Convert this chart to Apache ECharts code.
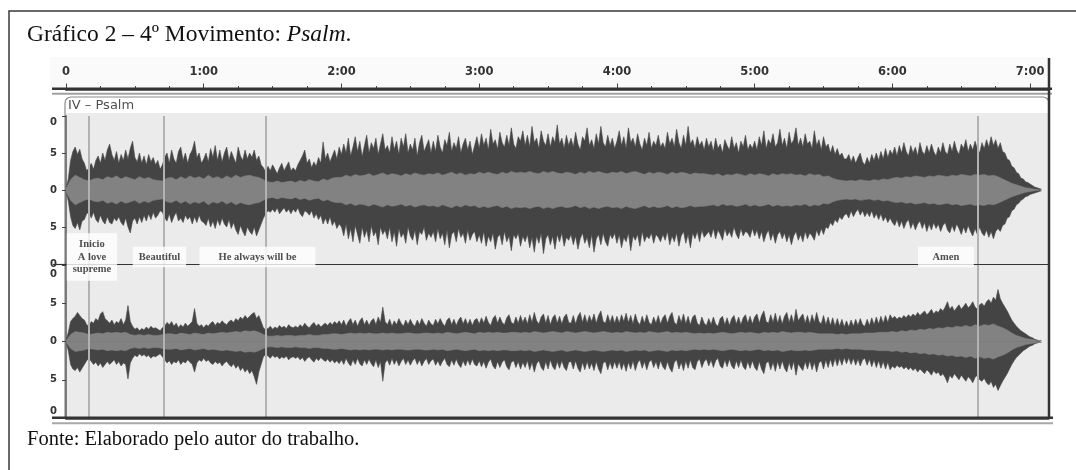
<!DOCTYPE html>
<html><head><meta charset="utf-8">
<script src="https://cdn.jsdelivr.net/npm/echarts@6/dist/echarts.min.js"></script>
<style>html,body{margin:0;padding:0;background:#fff}#c{width:1076px;height:470px}</style>
</head><body><div id="c"></div>
<script>
// ---------- data ----------
const timeMax = 428;                       // seconds shown by the track
const minuteTicks = [0, 60, 120, 180, 240, 300, 360, 420];
const quarterTicks = [15,30,45,75,90,105,135,150,165,195,210,225,255,270,285,315,330,345,375,390,405];
const markerTimes = [9.7, 42.6, 86.8, 397.3];
const annotationTimes = [11.3, 40.7, 83.4, 383.3];
const annotationTexts = ['Inicio\nA love\nsupreme', 'Beautiful', 'He always will be', 'Amen'];
const yTickValues = [-1, -0.5, 0, 0.5, 1];
const yTickLabels = ['0', '5', '0', '5', '0'];
const peakStep = 1;   // seconds per peak sample
const rmsStep = 2;    // seconds per rms sample

// channel 1 (upper) peak envelope, top
const ch1Top = [
0.02,0.15,0.4,0.52,0.58,0.48,0.55,0.42,0.36,0.26,0.3,0.36,0.28,0.4,0.46,0.36,0.5,0.4,0.54,0.62,
0.48,0.4,0.52,0.36,0.48,0.4,0.54,0.42,0.56,0.66,0.44,0.38,0.5,0.36,0.46,0.34,0.48,0.38,0.44,0.34,
0.4,0.28,0.34,0.44,0.5,0.36,0.54,0.42,0.36,0.52,0.58,0.4,0.5,0.36,0.48,0.54,0.66,0.44,0.5,0.36,
0.42,0.5,0.38,0.56,0.44,0.6,0.4,0.54,0.38,0.5,0.58,0.4,0.52,0.44,0.36,0.58,0.46,0.4,0.54,0.42,
0.5,0.44,0.54,0.4,0.46,0.34,0.3,0.24,0.32,0.26,0.34,0.28,0.22,0.3,0.36,0.26,0.32,0.38,0.26,0.3,
0.26,0.34,0.4,0.46,0.54,0.36,0.42,0.3,0.38,0.32,0.44,0.36,0.65,0.42,0.5,0.38,0.46,0.54,0.42,0.58,
0.48,0.62,0.5,0.7,0.46,0.58,0.72,0.52,0.66,0.45,0.6,0.74,0.5,0.64,0.56,0.7,0.48,0.62,0.76,0.54,
0.6,0.5,0.72,0.55,0.66,0.48,0.7,0.58,0.76,0.5,0.62,0.54,0.7,0.46,0.64,0.74,0.52,0.6,0.68,0.5,
0.66,0.52,0.74,0.58,0.5,0.68,0.6,0.78,0.52,0.64,0.56,0.72,0.5,0.62,0.7,0.54,0.66,0.48,0.6,0.72,
0.56,0.76,0.6,0.7,0.54,0.82,0.62,0.68,0.55,0.78,0.64,0.58,0.74,0.6,0.84,0.62,0.56,0.72,0.66,0.8,
0.6,0.74,0.58,0.86,0.64,0.7,0.56,0.8,0.66,0.6,0.76,0.58,0.72,0.64,0.88,0.62,0.7,0.56,0.74,0.6,
0.7,0.58,0.78,0.62,0.54,0.72,0.66,0.84,0.6,0.68,0.56,0.76,0.62,0.86,0.64,0.58,0.74,0.6,0.7,0.56,
0.66,0.8,0.6,0.72,0.56,0.84,0.64,0.7,0.58,0.76,0.62,0.54,0.7,0.6,0.78,0.56,0.66,0.6,0.74,0.58,
0.64,0.56,0.78,0.62,0.7,0.58,0.82,0.64,0.56,0.74,0.6,0.86,0.62,0.68,0.56,0.72,0.6,0.66,0.54,0.7,
0.58,0.66,0.52,0.7,0.56,0.62,0.5,0.68,0.6,0.54,0.72,0.56,0.64,0.5,0.66,0.58,0.74,0.54,0.62,0.56,
0.66,0.54,0.72,0.6,0.8,0.56,0.68,0.62,0.76,0.58,0.64,0.82,0.6,0.7,0.56,0.78,0.62,0.68,0.84,0.6,
0.7,0.58,0.76,0.62,0.66,0.56,0.8,0.6,0.68,0.54,0.72,0.58,0.62,0.5,0.6,0.48,0.56,0.46,0.5,0.42,
0.42,0.48,0.38,0.46,0.36,0.44,0.5,0.38,0.34,0.44,0.36,0.48,0.4,0.5,0.4,0.52,0.42,0.56,0.44,0.54,
0.48,0.58,0.46,0.6,0.5,0.64,0.52,0.46,0.6,0.5,0.58,0.46,0.64,0.52,0.48,0.6,0.5,0.62,0.52,0.46,
0.58,0.5,0.64,0.52,0.48,0.62,0.52,0.66,0.54,0.48,0.62,0.56,0.68,0.52,0.62,0.54,0.66,0.56,0.5,0.64,
0.56,0.68,0.58,0.72,0.6,0.68,0.56,0.64,0.52,0.5,0.42,0.4,0.32,0.3,0.24,0.22,0.16,0.15,0.11,0.1,
0.08,0.06,0.04,0.03,0.02,0.01];
// channel 1 peak envelope, bottom
const ch1Bottom = [
-0.02,-0.15,-0.36,-0.48,-0.52,-0.44,-0.54,-0.42,-0.4,-0.32,-0.3,-0.38,-0.3,-0.4,-0.44,-0.34,-0.42,-0.46,-0.36,-0.44,
-0.46,-0.38,-0.42,-0.36,-0.44,-0.48,-0.38,-0.5,-0.58,-0.42,-0.38,-0.46,-0.36,-0.44,-0.34,-0.42,-0.32,-0.4,-0.3,-0.38,
-0.34,-0.28,-0.3,-0.38,-0.42,-0.32,-0.44,-0.36,-0.3,-0.42,-0.38,-0.44,-0.34,-0.4,-0.36,-0.46,-0.36,-0.44,-0.34,-0.42,
-0.44,-0.48,-0.38,-0.5,-0.42,-0.52,-0.4,-0.48,-0.38,-0.46,-0.5,-0.4,-0.52,-0.44,-0.54,-0.6,-0.48,-0.56,-0.62,-0.5,
-0.56,-0.6,-0.5,-0.62,-0.54,-0.46,-0.38,-0.32,-0.28,-0.3,-0.26,-0.3,-0.24,-0.32,-0.28,-0.24,-0.3,-0.26,-0.32,-0.26,
-0.3,-0.24,-0.32,-0.36,-0.28,-0.3,-0.34,-0.28,-0.38,-0.32,-0.4,-0.34,-0.46,-0.38,-0.46,-0.36,-0.48,-0.42,-0.52,-0.46,
-0.5,-0.62,-0.46,-0.66,-0.52,-0.7,-0.48,-0.6,-0.72,-0.5,-0.64,-0.54,-0.7,-0.48,-0.62,-0.56,-0.74,-0.5,-0.6,-0.54,
-0.66,-0.5,-0.7,-0.56,-0.76,-0.52,-0.64,-0.58,-0.72,-0.5,-0.62,-0.68,-0.54,-0.74,-0.56,-0.6,-0.5,-0.68,-0.58,-0.64,
-0.56,-0.7,-0.52,-0.66,-0.58,-0.74,-0.54,-0.78,-0.6,-0.56,-0.7,-0.52,-0.64,-0.58,-0.72,-0.54,-0.68,-0.6,-0.56,-0.7,
-0.6,-0.72,-0.56,-0.76,-0.62,-0.7,-0.58,-0.8,-0.64,-0.6,-0.74,-0.56,-0.7,-0.62,-0.82,-0.6,-0.66,-0.58,-0.76,-0.62,
-0.7,-0.6,-0.78,-0.64,-0.84,-0.62,-0.72,-0.58,-0.86,-0.66,-0.6,-0.74,-0.62,-0.8,-0.6,-0.7,-0.58,-0.76,-0.64,-0.68,
-0.6,-0.74,-0.62,-0.8,-0.66,-0.58,-0.72,-0.64,-0.78,-0.6,-0.84,-0.66,-0.6,-0.74,-0.58,-0.7,-0.76,-0.6,-0.66,-0.58,
-0.72,-0.6,-0.78,-0.64,-0.7,-0.58,-0.82,-0.62,-0.68,-0.6,-0.76,-0.56,-0.7,-0.62,-0.66,-0.58,-0.72,-0.6,-0.64,-0.7,
-0.6,-0.68,-0.56,-0.74,-0.62,-0.7,-0.58,-0.76,-0.62,-0.56,-0.72,-0.6,-0.78,-0.58,-0.66,-0.56,-0.7,-0.54,-0.64,-0.6,
-0.56,-0.64,-0.52,-0.66,-0.54,-0.6,-0.68,-0.52,-0.62,-0.56,-0.64,-0.5,-0.6,-0.66,-0.52,-0.62,-0.56,-0.58,-0.64,-0.52,
-0.62,-0.54,-0.66,-0.56,-0.7,-0.6,-0.54,-0.68,-0.58,-0.72,-0.6,-0.56,-0.66,-0.58,-0.7,-0.6,-0.74,-0.62,-0.56,-0.68,
-0.6,-0.7,-0.56,-0.66,-0.58,-0.62,-0.68,-0.54,-0.62,-0.52,-0.6,-0.5,-0.52,-0.44,-0.48,-0.4,-0.44,-0.36,-0.4,-0.34,
-0.32,-0.38,-0.28,-0.36,-0.3,-0.26,-0.34,-0.28,-0.36,-0.3,-0.36,-0.28,-0.38,-0.32,-0.4,-0.32,-0.42,-0.36,-0.44,-0.38,
-0.44,-0.48,-0.4,-0.5,-0.42,-0.52,-0.44,-0.4,-0.52,-0.44,-0.54,-0.46,-0.42,-0.52,-0.44,-0.56,-0.46,-0.54,-0.44,-0.52,
-0.46,-0.56,-0.48,-0.44,-0.54,-0.58,-0.48,-0.56,-0.46,-0.52,-0.6,-0.5,-0.58,-0.48,-0.56,-0.62,-0.52,-0.6,-0.5,-0.58,
-0.62,-0.54,-0.64,-0.56,-0.66,-0.56,-0.52,-0.56,-0.48,-0.46,-0.38,-0.36,-0.28,-0.26,-0.2,-0.18,-0.14,-0.12,-0.09,-0.08,
-0.06,-0.05,-0.04,-0.03,-0.02,-0.01];
// channel 1 rms band (symmetric)
const ch1Rms = [
0.02,0.14,0.2,0.17,0.14,0.12,0.15,0.16,0.14,0.18,0.16,0.19,0.15,0.18,0.16,0.14,0.18,0.15,0.17,0.14,
0.13,0.12,0.16,0.17,0.14,0.18,0.15,0.19,0.16,0.18,0.15,0.2,0.16,0.18,0.15,0.19,0.16,0.2,0.17,0.19,
0.2,0.18,0.17,0.14,0.11,0.1,0.12,0.1,0.11,0.12,0.1,0.13,0.11,0.14,0.12,0.11,0.15,0.13,0.16,0.17,
0.17,0.2,0.18,0.21,0.19,0.2,0.22,0.19,0.21,0.23,0.2,0.22,0.21,0.19,0.22,0.2,0.23,0.21,0.2,0.22,
0.21,0.23,0.2,0.22,0.24,0.21,0.23,0.2,0.22,0.21,0.24,0.22,0.24,0.22,0.21,0.24,0.22,0.25,0.23,0.24,
0.23,0.25,0.23,0.22,0.25,0.23,0.25,0.23,0.22,0.24,0.23,0.21,0.24,0.22,0.25,0.23,0.25,0.23,0.22,0.24,
0.23,0.25,0.22,0.24,0.25,0.23,0.21,0.24,0.22,0.24,0.23,0.21,0.24,0.22,0.24,0.23,0.21,0.23,0.22,0.22,
0.21,0.2,0.22,0.19,0.21,0.2,0.22,0.21,0.19,0.22,0.2,0.22,0.21,0.19,0.22,0.2,0.22,0.21,0.22,0.2,
0.21,0.19,0.22,0.2,0.21,0.18,0.19,0.16,0.14,0.13,0.12,0.13,0.12,0.14,0.13,0.12,0.14,0.13,0.15,0.14,
0.16,0.17,0.16,0.18,0.17,0.19,0.18,0.17,0.19,0.18,0.2,0.19,0.18,0.2,0.19,0.21,0.2,0.19,0.21,0.2,
0.21,0.19,0.2,0.18,0.15,0.12,0.09,0.07,0.05,0.03,0.02,0.01,0.005];
// channel 2 (lower) peak envelope, top
const ch2Top = [
0.01,0.12,0.26,0.3,0.33,0.38,0.34,0.3,0.28,0.22,0.2,0.26,0.24,0.3,0.27,0.36,0.39,0.3,0.27,0.24,
0.28,0.22,0.26,0.24,0.3,0.22,0.28,0.47,0.26,0.2,0.16,0.18,0.14,0.17,0.15,0.19,0.16,0.2,0.17,0.18,
0.16,0.14,0.18,0.2,0.25,0.22,0.26,0.2,0.24,0.18,0.22,0.19,0.24,0.2,0.23,0.26,0.43,0.24,0.2,0.22,
0.18,0.22,0.2,0.24,0.26,0.21,0.25,0.23,0.27,0.24,0.22,0.26,0.28,0.25,0.3,0.27,0.32,0.29,0.34,0.3,
0.33,0.36,0.38,0.3,0.34,0.26,0.18,0.15,0.17,0.2,0.16,0.19,0.17,0.21,0.18,0.2,0.17,0.22,0.19,0.18,
0.2,0.18,0.22,0.19,0.24,0.2,0.18,0.22,0.25,0.2,0.23,0.19,0.22,0.24,0.21,0.25,0.22,0.26,0.23,0.27,
0.22,0.28,0.2,0.26,0.3,0.22,0.28,0.2,0.27,0.31,0.22,0.28,0.21,0.27,0.3,0.22,0.32,0.25,0.45,0.26,
0.22,0.29,0.2,0.27,0.22,0.3,0.24,0.2,0.28,0.22,0.29,0.23,0.2,0.28,0.22,0.3,0.24,0.2,0.28,0.23,
0.21,0.29,0.23,0.3,0.24,0.2,0.28,0.31,0.22,0.29,0.21,0.28,0.32,0.23,0.3,0.22,0.29,0.21,0.28,0.3,
0.23,0.31,0.24,0.33,0.25,0.21,0.3,0.34,0.24,0.32,0.25,0.22,0.31,0.35,0.25,0.23,0.32,0.24,0.34,0.25,
0.32,0.23,0.35,0.25,0.38,0.27,0.23,0.32,0.36,0.24,0.34,0.22,0.31,0.35,0.24,0.33,0.23,0.32,0.36,0.25,
0.24,0.34,0.23,0.33,0.38,0.25,0.35,0.24,0.34,0.26,0.36,0.24,0.34,0.4,0.26,0.24,0.35,0.25,0.34,0.24,
0.33,0.24,0.35,0.26,0.37,0.25,0.34,0.23,0.36,0.26,0.22,0.33,0.24,0.35,0.25,0.22,0.32,0.24,0.34,0.23,
0.31,0.35,0.24,0.33,0.38,0.25,0.22,0.34,0.25,0.36,0.23,0.33,0.22,0.32,0.35,0.24,0.21,0.32,0.24,0.21,
0.3,0.22,0.32,0.23,0.2,0.3,0.33,0.22,0.31,0.21,0.3,0.34,0.23,0.32,0.22,0.31,0.35,0.24,0.33,0.23,
0.32,0.36,0.24,0.34,0.4,0.26,0.24,0.35,0.25,0.37,0.24,0.34,0.23,0.33,0.38,0.25,0.35,0.24,0.42,0.27,
0.32,0.36,0.24,0.34,0.23,0.35,0.25,0.38,0.26,0.23,0.34,0.22,0.32,0.21,0.31,0.2,0.3,0.2,0.29,0.19,
0.27,0.19,0.28,0.2,0.29,0.21,0.3,0.22,0.2,0.29,0.21,0.31,0.22,0.32,0.23,0.33,0.24,0.34,0.25,0.35,
0.3,0.33,0.29,0.32,0.3,0.34,0.31,0.35,0.32,0.36,0.33,0.38,0.34,0.37,0.4,0.35,0.38,0.42,0.36,0.4,
0.38,0.43,0.4,0.45,0.52,0.42,0.46,0.4,0.44,0.48,0.42,0.46,0.5,0.44,0.47,0.52,0.45,0.42,0.48,0.5,
0.46,0.52,0.55,0.5,0.58,0.54,0.68,0.56,0.5,0.45,0.4,0.34,0.28,0.24,0.2,0.17,0.14,0.12,0.1,0.08,
0.06,0.05,0.03,0.02,0.01,0.01];
// channel 2 peak envelope, bottom
const ch2Bottom = [
-0.01,-0.12,-0.3,-0.36,-0.38,-0.34,-0.4,-0.35,-0.3,-0.25,-0.22,-0.26,-0.3,-0.27,-0.32,-0.28,-0.34,-0.3,-0.26,-0.3,
-0.27,-0.24,-0.3,-0.26,-0.32,-0.28,-0.3,-0.49,-0.28,-0.22,-0.18,-0.2,-0.16,-0.19,-0.17,-0.2,-0.18,-0.22,-0.19,-0.2,
-0.18,-0.16,-0.2,-0.24,-0.28,-0.25,-0.3,-0.26,-0.28,-0.24,-0.3,-0.26,-0.28,-0.24,-0.27,-0.3,-0.4,-0.28,-0.24,-0.26,
-0.22,-0.26,-0.24,-0.28,-0.3,-0.26,-0.29,-0.27,-0.32,-0.28,-0.26,-0.3,-0.33,-0.29,-0.35,-0.31,-0.38,-0.34,-0.4,-0.36,
-0.42,-0.38,-0.46,-0.56,-0.4,-0.3,-0.2,-0.17,-0.19,-0.22,-0.18,-0.21,-0.19,-0.23,-0.2,-0.22,-0.19,-0.24,-0.21,-0.2,
-0.22,-0.2,-0.24,-0.21,-0.26,-0.22,-0.2,-0.24,-0.27,-0.22,-0.25,-0.21,-0.24,-0.26,-0.23,-0.27,-0.24,-0.28,-0.25,-0.29,
-0.24,-0.3,-0.22,-0.28,-0.32,-0.24,-0.3,-0.22,-0.29,-0.32,-0.24,-0.3,-0.23,-0.29,-0.33,-0.24,-0.34,-0.26,-0.52,-0.28,
-0.24,-0.31,-0.22,-0.3,-0.24,-0.32,-0.26,-0.22,-0.3,-0.24,-0.31,-0.25,-0.22,-0.3,-0.24,-0.32,-0.26,-0.22,-0.3,-0.25,
-0.23,-0.31,-0.25,-0.32,-0.26,-0.22,-0.3,-0.33,-0.24,-0.31,-0.23,-0.3,-0.34,-0.25,-0.32,-0.24,-0.31,-0.23,-0.3,-0.32,
-0.25,-0.33,-0.26,-0.35,-0.27,-0.23,-0.32,-0.36,-0.26,-0.34,-0.27,-0.24,-0.33,-0.37,-0.27,-0.25,-0.34,-0.26,-0.36,-0.27,
-0.34,-0.25,-0.37,-0.27,-0.4,-0.29,-0.25,-0.34,-0.38,-0.26,-0.36,-0.24,-0.33,-0.37,-0.26,-0.35,-0.25,-0.34,-0.38,-0.27,
-0.26,-0.36,-0.25,-0.35,-0.4,-0.27,-0.37,-0.26,-0.36,-0.28,-0.38,-0.26,-0.36,-0.42,-0.28,-0.26,-0.37,-0.27,-0.36,-0.26,
-0.35,-0.26,-0.37,-0.28,-0.39,-0.27,-0.36,-0.25,-0.38,-0.28,-0.24,-0.35,-0.26,-0.37,-0.27,-0.24,-0.34,-0.26,-0.36,-0.25,
-0.33,-0.37,-0.26,-0.35,-0.4,-0.27,-0.24,-0.36,-0.27,-0.38,-0.25,-0.35,-0.24,-0.34,-0.37,-0.26,-0.23,-0.34,-0.26,-0.23,
-0.32,-0.24,-0.34,-0.25,-0.22,-0.32,-0.35,-0.24,-0.33,-0.23,-0.32,-0.36,-0.25,-0.34,-0.24,-0.33,-0.37,-0.26,-0.35,-0.25,
-0.34,-0.38,-0.26,-0.36,-0.42,-0.28,-0.26,-0.37,-0.27,-0.39,-0.26,-0.36,-0.25,-0.35,-0.4,-0.27,-0.37,-0.26,-0.44,-0.29,
-0.34,-0.38,-0.26,-0.36,-0.25,-0.37,-0.27,-0.4,-0.28,-0.25,-0.36,-0.24,-0.34,-0.23,-0.33,-0.22,-0.32,-0.22,-0.31,-0.21,
-0.29,-0.21,-0.3,-0.22,-0.31,-0.23,-0.32,-0.24,-0.22,-0.31,-0.23,-0.33,-0.24,-0.34,-0.25,-0.35,-0.26,-0.36,-0.27,-0.37,
-0.32,-0.35,-0.31,-0.34,-0.32,-0.36,-0.33,-0.37,-0.34,-0.38,-0.35,-0.4,-0.36,-0.39,-0.42,-0.37,-0.4,-0.44,-0.38,-0.42,
-0.4,-0.45,-0.42,-0.47,-0.54,-0.44,-0.48,-0.42,-0.46,-0.5,-0.44,-0.48,-0.52,-0.46,-0.49,-0.54,-0.47,-0.44,-0.5,-0.52,
-0.48,-0.54,-0.57,-0.52,-0.6,-0.56,-0.64,-0.58,-0.52,-0.47,-0.42,-0.36,-0.3,-0.25,-0.21,-0.18,-0.15,-0.12,-0.1,-0.08,
-0.06,-0.05,-0.03,-0.02,-0.01,-0.01];
// channel 2 rms band (symmetric)
const ch2Rms = [
0.01,0.09,0.13,0.12,0.11,0.09,0.1,0.11,0.1,0.12,0.11,0.12,0.11,0.12,0.09,0.08,0.09,0.08,0.09,0.08,
0.08,0.09,0.1,0.1,0.09,0.11,0.1,0.09,0.11,0.1,0.09,0.11,0.1,0.11,0.12,0.11,0.12,0.13,0.12,0.14,
0.13,0.14,0.12,0.09,0.07,0.07,0.08,0.07,0.08,0.08,0.07,0.08,0.08,0.09,0.08,0.08,0.09,0.09,0.1,0.1,
0.09,0.1,0.11,0.1,0.11,0.1,0.11,0.1,0.1,0.11,0.1,0.11,0.1,0.1,0.11,0.11,0.1,0.1,0.11,0.11,
0.1,0.11,0.1,0.12,0.11,0.1,0.11,0.12,0.11,0.1,0.12,0.11,0.12,0.11,0.12,0.11,0.11,0.12,0.12,0.11,
0.12,0.11,0.13,0.12,0.11,0.12,0.13,0.12,0.11,0.13,0.12,0.11,0.12,0.13,0.12,0.11,0.12,0.13,0.12,0.11,
0.12,0.11,0.13,0.12,0.11,0.12,0.11,0.13,0.12,0.11,0.12,0.13,0.11,0.12,0.11,0.12,0.11,0.1,0.11,0.1,
0.11,0.1,0.11,0.12,0.11,0.1,0.11,0.12,0.11,0.12,0.11,0.1,0.12,0.11,0.12,0.11,0.13,0.12,0.11,0.12,
0.12,0.11,0.12,0.11,0.1,0.1,0.1,0.1,0.09,0.1,0.09,0.1,0.1,0.1,0.11,0.11,0.11,0.12,0.12,0.12,
0.13,0.12,0.14,0.13,0.15,0.14,0.16,0.15,0.17,0.16,0.18,0.17,0.19,0.18,0.2,0.19,0.21,0.19,0.22,0.2,
0.22,0.21,0.23,0.2,0.18,0.15,0.11,0.08,0.06,0.04,0.03,0.02,0.01];

// ---------- chart ----------
const DARK = '#444444', LIGHT = '#828282', BG = '#ebebeb';
const pairs = (arr, step) => arr.map((v, i) => [i * step, v]);
const mirror = arr => arr.map(v => -v);
const LEFT = 66, RIGHT = 1076 - 1048.5;

function wave(name, data, step, color, xi, yi, z) {
  return { name, type: 'line', xAxisIndex: xi, yAxisIndex: yi, data: pairs(data, step),
    showSymbol: false, symbol: 'none', silent: true, z,
    lineStyle: { width: 0.6, color }, areaStyle: { color, opacity: 1 } };
}
function markers(xi, yi) {
  return { type: 'line', xAxisIndex: xi, yAxisIndex: yi, data: [], silent: true, z: 5,
    markLine: { silent: true, symbol: ['none', 'none'], animation: false, label: { show: false },
      lineStyle: { color: '#b2b2b2', width: 2, type: 'solid' },
      data: markerTimes.map(t => ({ xAxis: t })) } };
}
function yAxisFor(grid, topPad, bottomPad) {
  const base = { color: '#333', fontFamily: 'DejaVu Sans', fontWeight: 'bold', fontSize: 10 };
  return { gridIndex: grid, type: 'value', min: -1, max: 1, interval: 0.5,
    axisLine: { show: true, onZero: false, lineStyle: { color: '#7a7a7a', width: 2 } },
    axisTick: { show: true, length: 4, lineStyle: { color: '#444' } },
    splitLine: { show: false },
    axisLabel: Object.assign({ margin: 9,
      formatter: v => {
        const s = yTickLabels[yTickValues.indexOf(Math.round(v * 2) / 2)] || '';
        if (v === 1) return '{t|' + s + '}';
        if (v === -1) return '{b|' + s + '}';
        return s;
      },
      rich: {
        t: Object.assign({ padding: [topPad, 0, 0, 0] }, base),
        b: Object.assign({ padding: [0, 0, bottomPad, 0] }, base)
      } }, base) };
}
const annPadding = [[5, 6], [4, 6], [4, 19], [4, 14.5]];

const option = {
  animation: false,
  backgroundColor: '#fff',
  grid: [
    { left: LEFT, right: RIGHT, top: 57, height: 32 },
    { left: LEFT, right: RIGHT, top: 116, height: 148 },
    { left: LEFT, right: RIGHT, top: 265, height: 153 }
  ],
  xAxis: [
    { gridIndex: 0, type: 'value', position: 'bottom', min: 0, max: timeMax,
      axisLine: { show: true, onZero: false, lineStyle: { color: '#333', width: 2.5 } },
      axisTick: { show: true, inside: true, length: 5.5, customValues: minuteTicks, lineStyle: { color: '#444', width: 1 } },
      axisLabel: { show: true, inside: true, margin: 11, customValues: minuteTicks, color: '#333',
        fontFamily: 'DejaVu Sans', fontWeight: 'bold', fontSize: 11.5,
        formatter: v => v === 0 ? '0' : (v / 60) + ':00' },
      splitLine: { show: false } },
    { gridIndex: 0, type: 'value', position: 'bottom', min: 0, max: timeMax,
      axisLine: { show: false, onZero: false },
      axisTick: { show: true, inside: true, length: 3, customValues: quarterTicks, lineStyle: { color: '#444', width: 1 } },
      axisLabel: { show: false }, splitLine: { show: false } },
    { gridIndex: 1, type: 'value', position: 'bottom', min: 0, max: timeMax,
      axisLine: { show: true, onZero: false, lineStyle: { color: '#333', width: 1.2 } },
      axisTick: { show: false }, axisLabel: { show: false }, splitLine: { show: false } },
    { gridIndex: 2, type: 'value', position: 'bottom', min: 0, max: timeMax,
      axisLine: { show: true, onZero: false, lineStyle: { color: '#333', width: 2.5 } },
      axisTick: { show: false }, axisLabel: { show: false }, splitLine: { show: false } }
  ],
  yAxis: [
    { gridIndex: 0, type: 'value', min: 0, max: 1, show: false },
    yAxisFor(1, 13, 0),
    yAxisFor(2, 19, 14)
  ],
  series: [
    wave('c1top', ch1Top, peakStep, DARK, 2, 1, 2),
    wave('c1bot', ch1Bottom, peakStep, DARK, 2, 1, 2),
    wave('c1rmsT', ch1Rms, rmsStep, LIGHT, 2, 1, 3),
    wave('c1rmsB', mirror(ch1Rms), rmsStep, LIGHT, 2, 1, 3),
    markers(2, 1),
    wave('c2top', ch2Top, peakStep, DARK, 3, 2, 2),
    wave('c2bot', ch2Bottom, peakStep, DARK, 3, 2, 2),
    wave('c2rmsT', ch2Rms, rmsStep, LIGHT, 3, 2, 3),
    wave('c2rmsB', mirror(ch2Rms), rmsStep, LIGHT, 3, 2, 3),
    markers(3, 2),
    { type: 'scatter', xAxisIndex: 2, yAxisIndex: 1, symbolSize: 0, silent: true, z: 10, clip: false,
      data: annotationTimes.map((t, i) => ({ value: [t, -0.905], name: annotationTexts[i],
        label: { padding: annPadding[i] } })),
      label: { show: true, position: 'inside', formatter: p => p.name, backgroundColor: '#fff',
        color: '#222', fontFamily: 'Liberation Serif', fontWeight: 'bold', fontSize: 10.5, lineHeight: 12.5,
        align: 'center', verticalAlign: 'middle' } }
  ],
  graphic: [
    { type: 'rect', z: -20, shape: { x: 9, y: 11, width: 1100, height: 480 },
      style: { fill: '#fff', stroke: '#3a3a3a', lineWidth: 1.5 } },
    { type: 'rect', z: -19, shape: { x: 50, y: 57, width: 1000, height: 31 }, style: { fill: '#fafafa' } },
    { type: 'rect', z: -18, shape: { x: 65, y: 97, width: 984, height: 321, r: [6, 6, 0, 0] },
      style: { fill: '#fff', stroke: '#8a8a8a', lineWidth: 1.2 } },
    { type: 'rect', z: -17, shape: { x: 66, y: 113, width: 982.5, height: 305 }, style: { fill: BG } },
    { type: 'line', z: 50, shape: { x1: 52, y1: 88.8, x2: 1052, y2: 88.8 }, style: { stroke: '#333', lineWidth: 2.5 } },
    { type: 'line', z: 50, shape: { x1: 52, y1: 93.7, x2: 1052, y2: 93.7 }, style: { stroke: '#a0a0a0', lineWidth: 2 } },
    { type: 'line', z: 50, shape: { x1: 1049, y1: 58, x2: 1049, y2: 418 }, style: { stroke: '#333', lineWidth: 2.5 } },
    { type: 'line', z: 50, shape: { x1: 52, y1: 417.8, x2: 1053, y2: 417.8 }, style: { stroke: '#333', lineWidth: 2.5 } },
    { type: 'line', z: 50, shape: { x1: 52, y1: 423.3, x2: 1053, y2: 423.3 }, style: { stroke: '#a8a8a8', lineWidth: 2 } },
    { type: 'line', z: 50, shape: { x1: 53, y1: 264.5, x2: 66, y2: 264.5 }, style: { stroke: '#333', lineWidth: 1.2 } },
    { type: 'text', z: 50, x: 68, y: 106, style: { text: 'IV – Psalm', fill: '#505050',
        fontFamily: 'DejaVu Sans', fontSize: 13, verticalAlign: 'middle' } },
    { type: 'text', z: 50, x: 27, y: 35, style: {
        text: '{a|Gráfico 2 – 4º Movimento: }{b|Psalm}{a|.}', verticalAlign: 'middle',
        rich: { a: { fontFamily: 'Liberation Serif', fontSize: 23.5, fill: '#111' },
                b: { fontFamily: 'Liberation Serif', fontSize: 23.5, fontStyle: 'italic', fill: '#111' } } } },
    { type: 'text', z: 50, x: 27, y: 440, style: { text: 'Fonte: Elaborado pelo autor do trabalho.',
        fontFamily: 'Liberation Serif', fontSize: 20.5, fill: '#111', verticalAlign: 'middle' } }
  ]
};
const chart = echarts.init(document.getElementById('c'), null, { renderer: 'canvas' });
chart.setOption(option);
</script></body></html>
